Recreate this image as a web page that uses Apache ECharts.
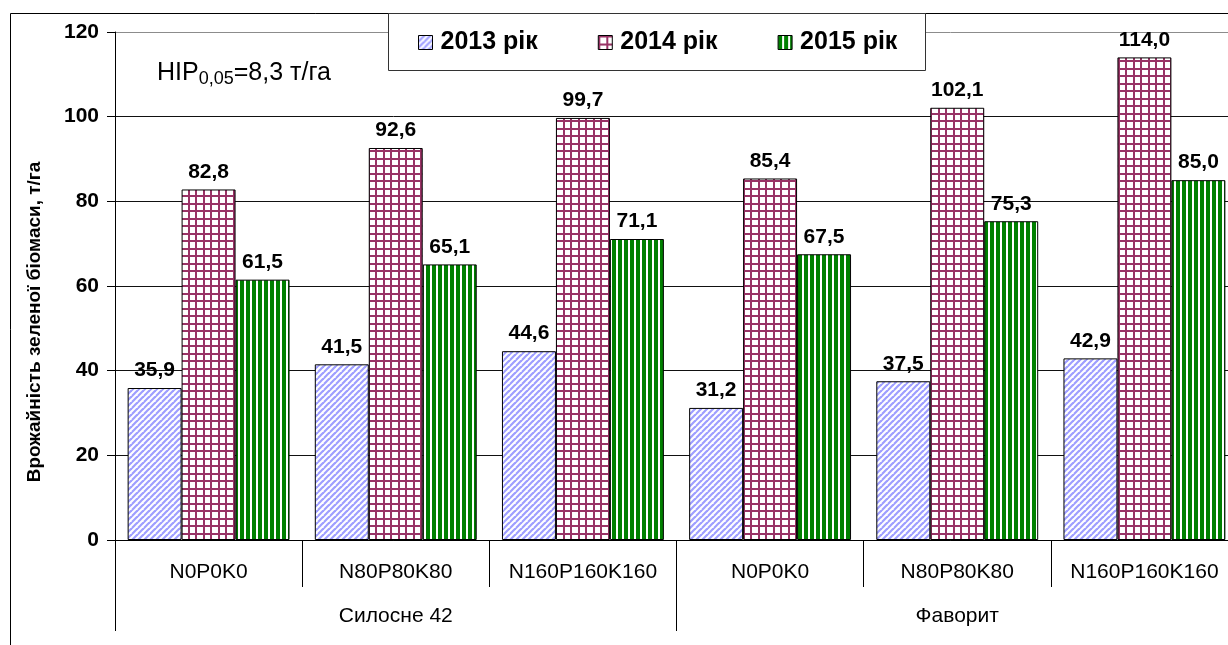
<!DOCTYPE html>
<html>
<head>
<meta charset="utf-8">
<script src="https://cdn.jsdelivr.net/npm/echarts@6/dist/echarts.min.js"></script>
<style>
html,body{margin:0;padding:0;background:#fff;}
#chart{width:1228px;height:645px;}
</style>
</head>
<body>
<div id="chart"></div>
<script>
// ---- data ----
const categories = ['N0P0K0', 'N80P80K80', 'N160P160K160', 'N0P0K0', 'N80P80K80', 'N160P160K160'];
const groups = ['Силосне 42', 'Фаворит'];
const seriesNames = ['2013 рік', '2014 рік', '2015 рік'];
const y2013 = [35.9, 41.5, 44.6, 31.2, 37.5, 42.9];
const y2014 = [82.8, 92.6, 99.7, 85.4, 102.1, 114.0];
const y2015 = [61.5, 65.1, 71.1, 67.5, 75.3, 85.0];
const yTicks = [0, 20, 40, 60, 80, 100, 120];
const axisTitle = 'Врожайність зеленої біомаси, т/га';

// ---- patterns ----
function pat2013() {
  const c = document.createElement('canvas'); c.width = 6; c.height = 6;
  const g = c.getContext('2d');
  g.fillStyle = '#fff'; g.fillRect(0, 0, 6, 6);
  g.strokeStyle = '#9e9eff'; g.lineWidth = 2.2;
  for (let k = -6; k <= 12; k += 6) {
    g.beginPath(); g.moveTo(k - 6, 6); g.lineTo(k + 6, -6); g.stroke();
  }
  return c;
}
function pat2014() {
  const s = 7.5;
  const c = document.createElement('canvas'); c.width = 15; c.height = 15;
  const g = c.getContext('2d');
  g.fillStyle = '#fff'; g.fillRect(0, 0, 15, 15);
  g.fillStyle = '#993366';
  for (let i = 0; i < 2; i++) {
    const p = Math.round(i * s);
    g.fillRect(p, 0, 2, 15);
    g.fillRect(0, p, 15, 2);
  }
  return c;
}
function pat2015() {
  const c = document.createElement('canvas'); c.width = 6; c.height = 4;
  const g = c.getContext('2d');
  g.fillStyle = '#008000'; g.fillRect(0, 0, 6, 4);
  g.fillStyle = '#fff'; g.fillRect(4, 0, 2, 4);
  return c;
}
const patterns = [pat2013(), pat2014(), pat2015()];
const values = [y2013, y2014, y2015];

const fmt = v => v.toFixed(1).replace('.', ',');

const chart = echarts.init(document.getElementById('chart'), null, {renderer: 'canvas'});

const FONT = 'Liberation Sans, Arial, sans-serif';

const option = {
  animation: false,
  backgroundColor: '#fff',
  textStyle: {fontFamily: FONT},
  grid: {left: 115, top: 32, width: 1123, bottom: 105, containLabel: false, outerBoundsMode: 'none'},
  legend: {
    data: seriesNames,
    left: 418, top: 30,
    padding: 0,
    icon: 'rect',
    itemWidth: 14, itemHeight: 14, itemGap: 60,
    z: 20,
    textStyle: {fontFamily: FONT, fontSize: 25, fontWeight: 'bold', color: '#000', padding: [0, 0, 0, 3]},
    itemStyle: {borderColor: '#000', borderWidth: 1}
  },
  xAxis: [
    {
      type: 'category', data: categories, position: 'bottom',
      axisLine: {lineStyle: {color: '#000', width: 1}},
      axisTick: {show: true, interval: 0, length: 47, lineStyle: {color: '#000'}},
      axisLabel: {interval: 0, margin: 22, color: '#000', fontSize: 21, fontFamily: FONT}
    },
    {
      type: 'category', data: groups, position: 'bottom', gridIndex: 0,
      axisLine: {show: false},
      axisTick: {show: true, interval: 0, length: 91, lineStyle: {color: '#000'}},
      axisLabel: {interval: 0, margin: 66, color: '#000', fontSize: 21, fontFamily: FONT}
    }
  ],
  yAxis: {
    type: 'value', min: 0, max: 120, interval: 20,
    axisLine: {show: true, lineStyle: {color: '#000'}},
    axisTick: {show: true, length: 8, lineStyle: {color: '#000'}},
    axisLabel: {margin: 16, color: '#000', fontSize: 21, fontWeight: 'bold', fontFamily: FONT,
      formatter: v => yTicks.indexOf(v) >= 0 ? String(v) : ''},
    splitLine: {show: true, lineStyle: {color: ['#000', '#111', '#111', '#111', '#111', '#111', '#8c8c8c'], width: 1}}
  },
  series: seriesNames.map((name, i) => ({
    name: name, type: 'bar', xAxisIndex: 0,
    data: values[i],
    barGap: '0%', barCategoryGap: '13.5%',
    itemStyle: {color: {image: patterns[i], repeat: 'repeat'}, borderColor: '#000', borderWidth: 1},
    label: {show: true, position: 'top', distance: 7, color: '#000', fontSize: 21, fontWeight: 'bold',
      fontFamily: FONT, formatter: p => fmt(p.value)}
  })),
  graphic: [
    {type: 'rect', z: 1, silent: true,
      shape: {x: 10.5, y: 13.5, width: 1400, height: 800},
      style: {fill: 'none', stroke: '#000', lineWidth: 1}},
    {type: 'rect', z: 15, silent: true,
      shape: {x: 388.5, y: 13.5, width: 537, height: 57},
      style: {fill: '#fff', stroke: '#333', lineWidth: 1}},
    {type: 'text', z: 15, silent: true, x: 157, y: 73.5,
      style: {
        text: '{a|HIP}{b|0,05}{a|=8,3 т/га}',
        verticalAlign: 'middle', align: 'left',
        rich: {
          a: {fontSize: 25, fontFamily: FONT, fill: '#000', lineHeight: 30, verticalAlign: 'middle'},
          b: {fontSize: 18, fontFamily: FONT, fill: '#000', lineHeight: 17, verticalAlign: 'bottom'}
        }
      }},
    {type: 'text', z: 15, silent: true, x: 35, y: 322, rotation: Math.PI / 2,
      style: {text: axisTitle, font: 'bold 19px ' + FONT, fill: '#000', align: 'center', verticalAlign: 'middle'}}
  ]
};
chart.setOption(option);
</script>
</body>
</html>
